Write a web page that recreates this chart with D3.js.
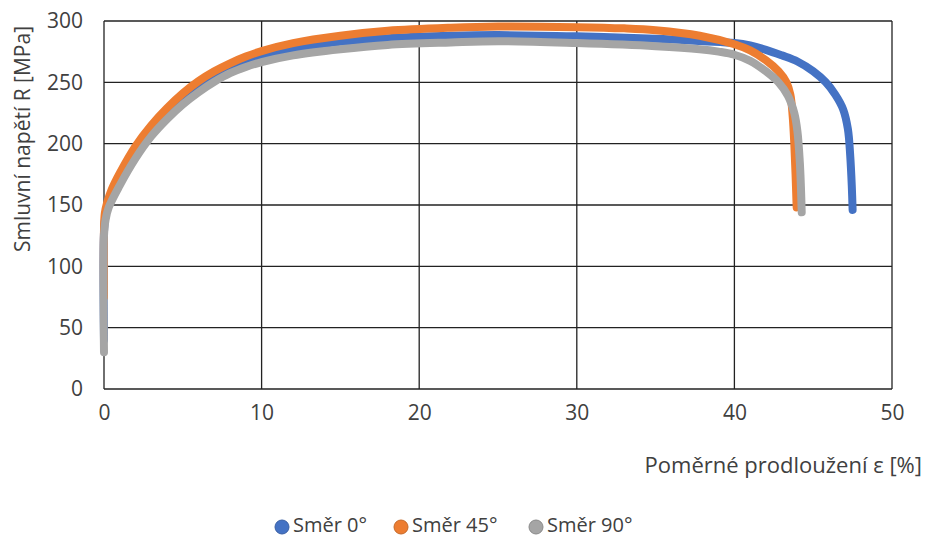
<!DOCTYPE html>
<html>
<head>
<meta charset="utf-8">
<script src="https://cdn.jsdelivr.net/npm/d3@7"></script>
<style>
  body { margin: 0; background: #fff; }
  text { font-family: "Open Sans", "Noto Sans", sans-serif; fill: #404040; }
</style>
</head>
<body>
<div id="chart"></div>
<script>
// strain [%] / stress [MPa]
const seriesNames = ['Směr 0°', 'Směr 45°', 'Směr 90°'];
const colors = ['#4472C4', '#ED7D31', '#A5A5A5'];

const strain0 = [0, 0, 0.1, 0.3, 1, 2, 3, 4, 5, 6, 7, 8, 9, 10, 12, 15, 18, 22, 25, 30, 35, 38, 40, 41, 42, 43, 44, 45, 45.8, 46.4, 46.9, 47.2, 47.35, 47.45, 47.5];
const stress0 = [40, 128, 142, 150, 170, 194, 212, 226, 237, 247, 255, 261.5, 267, 271.5, 277.5, 283, 286, 288, 288.5, 287.5, 285.5, 283.5, 282, 280, 276.5, 272, 267, 259, 250, 240, 228, 212, 190, 165, 146];

const strain45 = [0, 0, 0.05, 0.2, 0.5, 1, 2, 3, 4, 5, 6, 7, 8, 9, 10, 12, 15, 18, 22, 25, 30, 33, 35, 37.8, 40, 41, 42, 42.8, 43.3, 43.55, 43.7, 43.8, 43.88, 43.95];
const stress45 = [75, 130, 143, 152, 163, 176, 198, 215, 229, 241, 251, 259, 265.5, 271, 275.5, 282, 288, 292, 294.5, 295.5, 295, 294, 292.5, 288, 281, 276, 268, 259, 250, 240, 222, 200, 175, 148];

const strain90 = [0, 0, 0.1, 0.3, 1, 2, 3, 4, 5, 6, 7, 8, 9, 10, 12, 15, 18, 22, 25, 30, 35, 37.8, 39, 40, 41, 42, 42.8, 43.4, 43.8, 44, 44.15, 44.22, 44.27];
const stress90 = [30, 125, 138, 148, 166, 188, 206, 220, 232, 242, 250.5, 257.5, 262.5, 266.5, 272, 277, 280.5, 282.5, 283.5, 282, 279.5, 277, 275, 272.5, 267.5, 259, 250, 239, 225, 210, 185, 165, 144];

const xTicks = [0, 10, 20, 30, 40, 50];
const yTicks = [0, 50, 100, 150, 200, 250, 300];

const strains = [strain0, strain45, strain90];
const stresses = [stress0, stress45, stress90];

const width = 927, height = 538;
const margin = { top: 21, right: 35, bottom: 149, left: 104 };
const w = width - margin.left - margin.right;
const h = height - margin.top - margin.bottom;

const svg = d3.select('#chart').append('svg')
  .attr('width', width)
  .attr('height', height);

const g = svg.append('g')
  .attr('transform', `translate(${margin.left},${margin.top})`);

const x = d3.scaleLinear().domain([0, 50]).range([0, w]);
const y = d3.scaleLinear().domain([0, 300]).range([h, 0]);

// grid
g.selectAll('.hgrid').data(yTicks).enter().append('line')
  .attr('x1', 0).attr('x2', w)
  .attr('y1', d => y(d)).attr('y2', d => y(d))
  .attr('stroke', '#222').attr('stroke-width', 1.3);
g.selectAll('.vgrid').data(xTicks).enter().append('line')
  .attr('y1', 0).attr('y2', h)
  .attr('x1', d => x(d)).attr('x2', d => x(d))
  .attr('stroke', '#222').attr('stroke-width', 1.3);

// tick labels
const xAxis = g.append('g')
  .attr('transform', `translate(0,${h})`)
  .call(d3.axisBottom(x).tickValues(xTicks).tickSize(0).tickPadding(16));
const yAxis = g.append('g')
  .call(d3.axisLeft(y).tickValues(yTicks).tickSize(0).tickPadding(21));
[xAxis, yAxis].forEach(a => {
  a.select('.domain').remove();
  a.selectAll('text').style('font-size', '21px').attr('fill', '#404040')
    .style('font-family', '"Open Sans", sans-serif');
});

// curves
const line = d3.line().x(d => x(d[0])).y(d => y(d[1])).curve(d3.curveCatmullRom.alpha(0.5));
seriesNames.forEach((name, i) => {
  const pts = strains[i].map((e, j) => [e, stresses[i][j]]);
  g.append('path')
    .datum(pts)
    .attr('fill', 'none')
    .attr('stroke', colors[i])
    .attr('stroke-width', 8)
    .attr('stroke-linecap', 'round')
    .attr('stroke-linejoin', 'round')
    .attr('d', line);
});

// axis titles
svg.append('text')
  .attr('transform', 'translate(24,139) rotate(-90)')
  .attr('text-anchor', 'middle')
  .attr('dominant-baseline', 'middle')
  .style('font-size', '21px')
  .text('Smluvní napětí R [MPa]');

svg.append('text')
  .attr('x', 922).attr('y', 467)
  .attr('text-anchor', 'end')
  .attr('dominant-baseline', 'middle')
  .style('font-size', '22px')
  .text('Poměrné prodloužení ε [%]');

// legend
const legendX = [282, 401, 536];
const legend = svg.selectAll('.legend').data(seriesNames).enter().append('g')
  .attr('transform', (d, i) => `translate(${legendX[i]},527)`);
legend.append('circle')
  .attr('r', 7)
  .attr('fill', (d, i) => colors[i])
  .attr('stroke', (d, i) => d3.color(colors[i]).darker(0.5))
  .attr('stroke-width', 1);
legend.append('text')
  .attr('x', 11)
  .attr('dominant-baseline', 'middle')
  .style('font-size', '20px')
  .text(d => d);
</script>
</body>
</html>
